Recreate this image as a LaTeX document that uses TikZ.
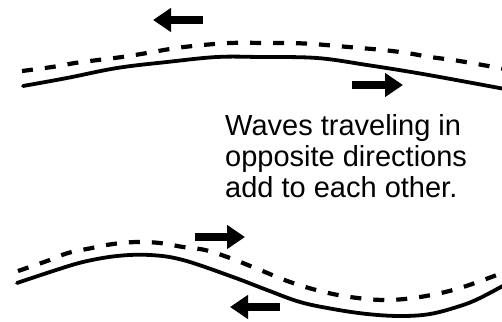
\documentclass[tikz,border=0pt]{standalone}
\usepackage{fontspec}
\setmainfont{Liberation Sans}
\usetikzlibrary{arrows.meta}
\begin{document}
\begin{tikzpicture}[x=1pt,y=-1pt,
  solidwave/.style={line width=3.8pt, line cap=round},
  dashwave/.style={line width=4.2pt, dash pattern=on 11pt off 12pt},
  bigarrow/.style={line width=8pt, -{Triangle[length=18pt,width=23pt]}},
  caption/.style={anchor=base west, inner sep=0pt, font=\fontsize{29}{31}\selectfont}]
\useasboundingbox (0,0) rectangle (502,321);
\clip (0,0) rectangle (502,321);
% top pair
\draw[solidwave] plot[smooth, tension=0.6] coordinates {(23,86) (67,78) (117,68) (167,62) (217,57) (260,57) (317,58) (367,65) (417,73) (467,82) (510,90)};
\draw[dashwave] plot[smooth, tension=0.6] coordinates {(22,71) (52,67) (75,63) (98,60) (122,57) (147,53) (170,49) (193,46) (230,43) (267,43) (290,43) (313,44) (337,46) (360,48) (383,50) (407,53) (430,57) (453,60) (477,64) (510,70)};
\coordinate (a1s) at (203,20); \coordinate (a1e) at (153,20);
\coordinate (a2s) at (352,85); \coordinate (a2e) at (403,85);
\draw[bigarrow] (a1s) -- (a1e);
\draw[bigarrow] (a2s) -- (a2e);
% text
\node[caption] (t1) at (225,135) {Waves traveling in};
\node[caption] (t2) at (225,166) {opposite directions};
\node[caption] (t3) at (225,197) {add to each other.};
% bottom pair
\draw[solidwave] plot[smooth, tension=0.6] coordinates {(17,283) (50,272) (83,262) (117,256) (150,255) (183,260) (233,277) (267,290) (300,302) (333,309) (367,314) (400,316) (430,314) (460,306) (480,298) (510,282)};
\draw[dashwave] plot[smooth, tension=0.6] coordinates {(18,271) (47,261) (68,253) (92,248) (113,244) (137,242) (160,243) (183,247) (205,250) (230,258) (260,270) (290,282) (320,291) (350,297) (385,300) (420,297) (460,288) (510,270)};
\coordinate (b1s) at (195,237); \coordinate (b1e) at (245,237);
\coordinate (b2s) at (280,307); \coordinate (b2e) at (230,307);
\draw[bigarrow] (b1s) -- (b1e);
\draw[bigarrow] (b2s) -- (b2e);
\end{tikzpicture}
\end{document}
